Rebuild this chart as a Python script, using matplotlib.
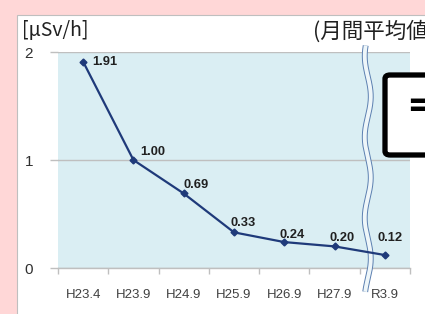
import matplotlib
matplotlib.use("Agg")
import matplotlib.pyplot as plt
import numpy as np
from matplotlib.patches import Rectangle, FancyBboxPatch

# data
periods = ["H23.4", "H23.9", "H24.9", "H25.9", "H26.9", "H27.9", "R3.9"]
dose = [1.91, 1.00, 0.69, 0.33, 0.24, 0.20, 0.12]
labels = ["1.91", "1.00", "0.69", "0.33", "0.24", "0.20", "0.12"]
yticks = [0, 1, 2]

# label offsets in pixels (style only)
label_off = [(22, 0), (19, 8), (12, 8), (9, 9), (8, 7), (7, 8), (5, 17)]

navy = "#1F3A7A"
grey = "#BFBFBF"

fig = plt.figure(figsize=(4.25, 3.14), dpi=100)
fig.patch.set_facecolor("#FFD7D7")

# white chart panel (behind the axes)
fig.patches.append(Rectangle((17/425, -0.01), 1, 1.01 - 15/314, transform=fig.transFigure,
                             facecolor="white", edgecolor=grey, lw=0.8, zorder=-5))

ax = fig.add_axes([58/425, 46/314, 352/425, 216/314])
ax.set_facecolor("#DAEEF3")
x = np.arange(len(periods))
ax.plot(x, dose, color=navy, lw=1.6, marker="D", ms=3.5, zorder=7, clip_on=False)

for xi, yi, lab, off in zip(x, dose, labels, label_off):
    ax.annotate(lab, (xi, yi), xytext=off, textcoords="offset pixels",
                ha="center", va="center", fontsize=9.3, fontweight="bold",
                family="Liberation Sans", color="#202020", zorder=8)

ax.set_xlim(-0.5, len(periods) - 0.5)
ax.set_ylim(0, 2)
ax.set_yticks(yticks)
ax.set_yticklabels([str(t) for t in yticks], fontsize=11, family="Liberation Sans", color="#303030")
ax.set_xticks(x)
ax.set_xticklabels(periods, fontsize=9.5, family="Liberation Sans", color="#404040")
ax.set_xticks(np.arange(-0.5, len(periods)), minor=True)
ax.tick_params(axis="x", which="major", length=0, pad=15)
ax.tick_params(axis="x", which="minor", length=4, color=grey, width=1)
ax.tick_params(axis="y", length=6, color=grey, width=1, pad=12)
ax.yaxis.grid(True, color=grey, lw=1)
ax.set_axisbelow(True)
for s in ["left", "right", "top"]:
    ax.spines[s].set_visible(False)
ax.spines["bottom"].set_color(grey)
ax.spines["bottom"].set_linewidth(1)

# wavy break mark
wy = np.linspace(-0.22, 2.06, 300)
wx = 5.66 + 0.06 * np.sin(2 * np.pi * (wy + 0.1) / 0.75)
ax.plot(wx, wy, color="#5B7FB0", lw=4.2, clip_on=False, zorder=5, solid_capstyle="butt")
ax.plot(wx, wy, color="#EEF6F9", lw=2.8, clip_on=False, zorder=6, solid_capstyle="butt")

# texts
fig.text(22/425, 1 - 31/314, "[μSv/h]", fontsize=14, family=["Noto Sans CJK JP", "DejaVu Sans"],
         color="#202020", ha="left", va="center")
fig.text(313/425, 1 - 32/314, "(月間平均値)", fontsize=15.5, family=["Noto Sans CJK JP", "DejaVu Sans"],
         color="#202020", ha="left", va="center")

# black callout box cut off on the right
fig.patches.append(FancyBboxPatch((385/425, 1 - 155/314), 60/425, 80/314,
                                  boxstyle="round,pad=0,rounding_size=0.012",
                                  transform=fig.transFigure, facecolor="white",
                                  edgecolor="black", lw=3.8, zorder=10))
fig.text(406/425, 1 - 106/314, "=", fontsize=26, fontweight="bold", family="DejaVu Sans",
         color="black", ha="left", va="center", zorder=11)

fig.savefig("out.png", dpi=100, facecolor=fig.get_facecolor())
